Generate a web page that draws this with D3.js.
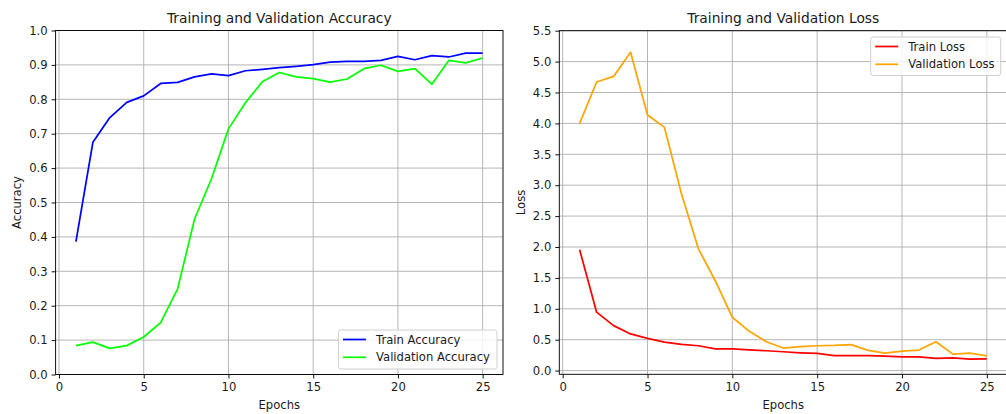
<!DOCTYPE html>
<html><head><meta charset="utf-8">
<script src="https://cdn.jsdelivr.net/npm/d3@7"></script>
<style>
body{margin:0;background:#fff}
text{font-family:"DejaVu Sans",sans-serif;fill:#1a1a1a}
</style>
</head><body><svg id="c" width="1006" height="414"></svg>
<script>
const epochs = [1,2,3,4,5,6,7,8,9,10,11,12,13,14,15,16,17,18,19,20,21,22,23,24,25];
const trainAcc = [0.386,0.675,0.747,0.791,0.810,0.846,0.849,0.865,0.874,0.869,0.883,0.887,0.892,0.896,0.901,0.908,0.910,0.910,0.913,0.925,0.915,0.927,0.923,0.934,0.934];
const valAcc = [0.084,0.094,0.076,0.084,0.109,0.151,0.249,0.452,0.569,0.714,0.790,0.851,0.878,0.865,0.860,0.850,0.859,0.889,0.899,0.881,0.889,0.844,0.913,0.906,0.920];
const trainLoss = [1.954,0.945,0.728,0.593,0.521,0.462,0.423,0.402,0.353,0.353,0.337,0.321,0.305,0.288,0.277,0.244,0.244,0.244,0.234,0.223,0.223,0.196,0.207,0.185,0.190];
const valLoss = [4.00,4.67,4.76,5.15,4.135,3.935,2.86,1.97,1.45,0.863,0.635,0.467,0.365,0.386,0.402,0.407,0.419,0.326,0.283,0.316,0.332,0.467,0.267,0.283,0.239];
const xTicks = [0,5,10,15,20,25];
const accTicks = [0,0.1,0.2,0.3,0.4,0.5,0.6,0.7,0.8,0.9,1.0];
const lossTicks = [0,0.5,1.0,1.5,2.0,2.5,3.0,3.5,4.0,4.5,5.0,5.5];

const svg = d3.select("#c");
const FS = 11.6;

function panel(cfg){
  const g = svg.append("g");
  const x = d3.scaleLinear().domain([-0.2,26.2]).range([cfg.left, cfg.right]);
  const y = d3.scaleLinear().domain(cfg.ydom).range([cfg.bottom, cfg.top]);
  // grid
  g.append("g").selectAll("line").data(xTicks).join("line")
    .attr("x1", d=>x(d)).attr("x2", d=>x(d)).attr("y1", cfg.top).attr("y2", cfg.bottom)
    .attr("stroke","#b0b0b0").attr("stroke-width",0.93);
  g.append("g").selectAll("line").data(cfg.yticks).join("line")
    .attr("x1", cfg.left).attr("x2", cfg.right).attr("y1", d=>y(d)).attr("y2", d=>y(d))
    .attr("stroke","#b0b0b0").attr("stroke-width",0.93);
  // lines
  const line = d3.line().x((d,i)=>x(epochs[i])).y(d=>y(d));
  cfg.series.forEach(s=>{
    g.append("path").datum(s.values).attr("d", line).attr("fill","none")
      .attr("stroke", s.color).attr("stroke-width",1.74).attr("stroke-linejoin","round");
  });
  // spines
  g.append("rect").attr("x",cfg.left).attr("y",cfg.top).attr("width",cfg.right-cfg.left).attr("height",cfg.bottom-cfg.top)
    .attr("fill","none").attr("stroke","#000").attr("stroke-width",0.93);
  // axes
  const ax = g.append("g").attr("transform",`translate(0,${cfg.bottom})`)
    .call(d3.axisBottom(x).tickValues(xTicks).tickFormat(d3.format("d")).tickSize(4).tickPadding(4));
  const ay = g.append("g").attr("transform",`translate(${cfg.left},0)`)
    .call(d3.axisLeft(y).tickValues(cfg.yticks).tickFormat(d3.format(".1f")).tickSize(4).tickPadding(4));
  [ax,ay].forEach(a=>{
    a.select(".domain").remove();
    a.selectAll("line").attr("stroke","#000").attr("stroke-width",0.93);
    a.selectAll("text").attr("font-size",FS).attr("font-family","DejaVu Sans").attr("fill","#1a1a1a");
  });
  // titles
  const cx = (cfg.left + cfg.titleRight)/2;
  g.append("text").attr("x",cx).attr("y",23).attr("text-anchor","middle").attr("font-size",13.8).text(cfg.title);
  g.append("text").attr("x",cx).attr("y",409).attr("text-anchor","middle").attr("font-size",FS).text("Epochs");
  g.append("text").attr("transform",`translate(${cfg.ylabX},${(cfg.top+cfg.bottom)/2}) rotate(-90)`)
    .attr("text-anchor","middle").attr("font-size",FS).text(cfg.ylabel);
  // legend
  const L = cfg.legend;
  const lg = g.append("g");
  lg.append("rect").attr("x",L.x).attr("y",L.y).attr("width",L.w).attr("height",L.h).attr("rx",2.5)
    .attr("fill","#fff").attr("fill-opacity",0.8).attr("stroke","#cccccc").attr("stroke-width",0.93);
  cfg.series.forEach((s,i)=>{
    const cy = L.y + 9.5 + i*17.8;
    lg.append("line").attr("x1",L.x+4.5).attr("x2",L.x+27.5).attr("y1",cy).attr("y2",cy)
      .attr("stroke",s.color).attr("stroke-width",1.74);
    lg.append("text").attr("x",L.x+37.5).attr("y",cy+4.1).attr("font-size",FS).text(s.name);
  });
}

panel({left:55.6,right:503,top:30.5,bottom:374.5,ydom:[0,1],yticks:accTicks,titleRight:503,
  title:"Training and Validation Accuracy",ylabel:"Accuracy",ylabX:21,
  series:[{name:"Train Accuracy",values:trainAcc,color:"#0000ff"},{name:"Validation Accuracy",values:valAcc,color:"#00ff00"}],
  legend:{x:338.5,y:330,w:158.5,h:39}});

panel({left:559.3,right:1007.2,top:30.7,bottom:374.3,ydom:[-0.06,5.5],yticks:lossTicks,titleRight:1007.2,
  title:"Training and Validation Loss",ylabel:"Loss",ylabX:525,
  series:[{name:"Train Loss",values:trainLoss,color:"#ff0000"},{name:"Validation Loss",values:valLoss,color:"#ffa500"}],
  legend:{x:870.7,y:37,w:130,h:38.5}});
</script>
</body></html>
